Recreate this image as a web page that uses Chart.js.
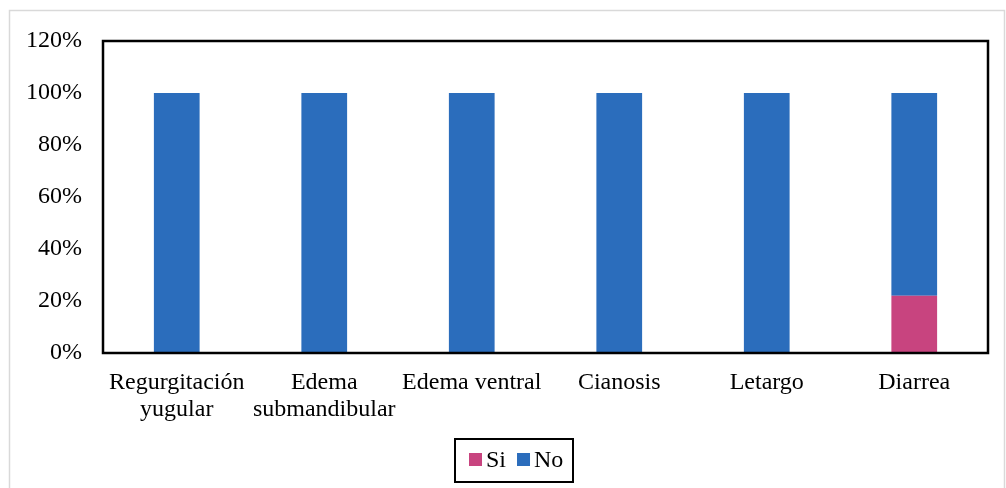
<!DOCTYPE html>
<html>
<head>
<meta charset="utf-8">
<script src="https://cdn.jsdelivr.net/npm/chart.js@4.4.0/dist/chart.umd.min.js"></script>
<style>
  html, body { margin: 0; padding: 0; background: #fff; }
  canvas { display: block; }
</style>
</head>
<body>
<canvas id="c" width="1006" height="488"></canvas>
<script>
/* Signs by category: Si / No share */
var CATEGORIES = [
  ['Regurgitación', 'yugular'],
  ['Edema', 'submandibular'],
  'Edema ventral',
  'Cianosis',
  'Letargo',
  'Diarrea'
];
var SI_VALUES = [0, 0, 0, 0, 0, 22];
var NO_VALUES = [100, 100, 100, 100, 100, 78];
var Y_TICKS = [0, 20, 40, 60, 80, 100, 120];

var PINK = '#C8447F';
var BLUE = '#2B6DBC';
var FONT = "'Liberation Serif', 'Times New Roman', serif";

var framePlugin = {
  id: 'frame',
  beforeDraw: function(chart) {
    var c = chart.ctx;
    c.save();
    c.fillStyle = '#fff';
    c.fillRect(0, 0, chart.width, chart.height);
    c.strokeStyle = '#d9d9d9';
    c.lineWidth = 1.5;
    c.strokeRect(9.5, 10.5, 995, 490);
    c.restore();
  },
  afterDatasetsDraw: function(chart) {
    var a = chart.chartArea;
    var c = chart.ctx;
    c.save();
    c.strokeStyle = '#000';
    c.lineWidth = 2.5;
    c.strokeRect(a.left, a.top, a.right - a.left, a.bottom - a.top);
    c.restore();
  },
  afterDraw: function(chart) {
    // legend drawn by hand so it can sit in its own box
    var c = chart.ctx;
    c.save();
    c.strokeStyle = '#000';
    c.lineWidth = 2;
    c.strokeRect(455, 439, 118, 43);
    c.font = '24px ' + FONT;
    c.textBaseline = 'middle';
    c.fillStyle = '#000';
    var x = 469;
    chart.data.datasets.forEach(function(ds) {
      c.fillStyle = ds.backgroundColor;
      c.fillRect(x, 453, 13, 13);
      c.fillStyle = '#000';
      c.fillText(ds.label, x + 17, 461);
      x += 17 + c.measureText(ds.label).width + 11;
    });
    c.restore();
  }
};

new Chart(document.getElementById('c').getContext('2d'), {
  type: 'bar',
  data: {
    labels: CATEGORIES,
    datasets: [
      { label: 'Si', data: SI_VALUES, backgroundColor: PINK },
      { label: 'No', data: NO_VALUES, backgroundColor: BLUE }
    ]
  },
  options: {
    responsive: false,
    animation: false,
    devicePixelRatio: 1,
    layout: { padding: { top: 41, right: 18, left: 0, bottom: 0 } },
    categoryPercentage: 1,
    barPercentage: 0.31,
    scales: {
      x: {
        stacked: true,
        grid: { display: false },
        border: { display: false },
        ticks: { color: '#000', font: { family: FONT, size: 24, lineHeight: 1.13 }, padding: 8, maxRotation: 0, autoSkip: false },
        afterFit: function(axis) { axis.height = 135; }
      },
      y: {
        stacked: true,
        min: 0,
        max: 120,
        grid: { display: false },
        border: { display: false },
        afterBuildTicks: function(axis) {
          axis.ticks = Y_TICKS.map(function(v) { return { value: v }; });
        },
        ticks: {
          color: '#000',
          font: { family: FONT, size: 24 },
          padding: 13,
          callback: function(v) { return v + '%'; }
        },
        afterFit: function(axis) { axis.width = 103; }
      }
    },
    plugins: {
      legend: { display: false },
      tooltip: { enabled: false }
    }
  },
  plugins: [framePlugin]
});
</script>
</body>
</html>
